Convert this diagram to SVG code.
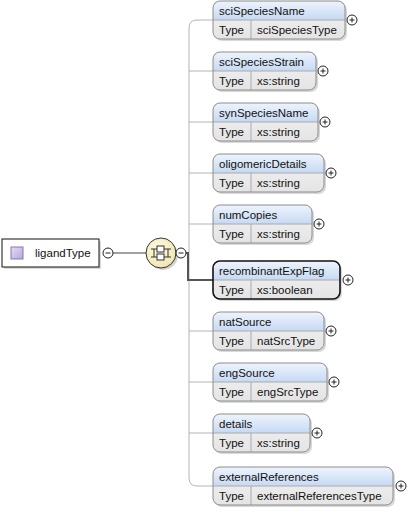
<svg xmlns="http://www.w3.org/2000/svg" width="409" height="512" viewBox="0 0 409 512">
<defs>
<linearGradient id="hdr" x1="0" y1="0" x2="0" y2="1"><stop offset="0" stop-color="#eef4fd"/><stop offset="1" stop-color="#c6d9f3"/></linearGradient>
<linearGradient id="typ" x1="0" y1="0" x2="0" y2="1"><stop offset="0" stop-color="#f4f4f4"/><stop offset="1" stop-color="#e4e4e4"/></linearGradient>
<radialGradient id="cho" cx="0.4" cy="0.35" r="0.7"><stop offset="0" stop-color="#fffbe0"/><stop offset="1" stop-color="#efe5b0"/></radialGradient>
<linearGradient id="ico" x1="0" y1="0" x2="1" y2="1"><stop offset="0" stop-color="#e6dcf6"/><stop offset="1" stop-color="#b6a6dc"/></linearGradient>
<g id="plus"><circle r="5" fill="#fff" stroke="#222" stroke-width="1"/><path d="M-2.5,0H2.5M0,-2.5V2.5" stroke="#222" stroke-width="1"/></g>
</defs>
<style>
text{font-family:"Liberation Sans",Arial,sans-serif;font-size:11.5px;fill:#111}
.sh{fill:#000;opacity:0.15}
.bd{fill:none;stroke:#8c8c8c;stroke-width:1}
.bdk{fill:none;stroke:#111;stroke-width:1.6}
.sep{stroke:#aaa;stroke-width:1}
.conn{fill:none;stroke:#b4b4b4;stroke-width:1}
</style>

<g id="connectors">
<path class="conn" d="M213,20H197Q189,20 189,28V478Q189,486 197,486H213"/>
<path class="conn" d="M189,71H213M189,122H213M189,173H213M189,224H213M189,331H213M189,382H213M189,433H213"/>
<path d="M113,253H146" stroke="#444" stroke-width="1.2" fill="none"/>
<path d="M186,253H188V280H213" stroke="#555" stroke-width="2" fill="none"/>
</g>

<g id="ligandType">
<rect x="4" y="241" width="97" height="28" class="sh"/>
<rect x="2" y="239" width="97" height="28" fill="#fff" stroke="#111" stroke-width="1"/>
<rect x="11" y="247" width="12" height="12" fill="url(#ico)" stroke="#8878b0" stroke-width="1"/>
<text x="35" y="257">ligandType</text>
<g transform="translate(108,253)"><circle r="5" fill="#fff" stroke="#222"/><path d="M-2.5,0H2.5" stroke="#222"/></g>
</g>

<g id="compositor">
<circle cx="163" cy="255" r="15" fill="#000" opacity="0.18"/>
<circle cx="161" cy="253" r="15" fill="url(#cho)" stroke="#333" stroke-width="1"/>
<path d="M151,249H171M151,257H171M154,249V257M168,249V257" stroke="#333" stroke-width="1" fill="none"/>
<rect x="157" y="246" width="7" height="6" fill="#fff" stroke="#333"/>
<rect x="157" y="254" width="7" height="6" fill="#fff" stroke="#333"/>
<g transform="translate(181,253)"><circle r="5" fill="#fff" stroke="#222"/><path d="M-2.5,0H2.5" stroke="#222"/></g>
</g>

<g id="sciSpeciesName" transform="translate(213,1)">
<rect x="2" y="2" width="132" height="38" rx="7" class="sh"/>
<rect width="132" height="38" rx="7" fill="url(#typ)"/>
<path d="M0,19V7Q0,0 7,0H125Q132,0 132,7V19Z" fill="url(#hdr)"/>
<path class="sep" d="M0,19H132M38,19V38"/>
<rect width="132" height="38" rx="7" class="bd"/>
<text x="6" y="14">sciSpeciesName</text><text x="6" y="33">Type</text><text x="44" y="33">sciSpeciesType</text>
<use href="#plus" x="139" y="19"/>
</g>

<g id="sciSpeciesStrain" transform="translate(213,52)">
<rect x="2" y="2" width="103" height="38" rx="7" class="sh"/>
<rect width="103" height="38" rx="7" fill="url(#typ)"/>
<path d="M0,19V7Q0,0 7,0H96Q103,0 103,7V19Z" fill="url(#hdr)"/>
<path class="sep" d="M0,19H103M38,19V38"/>
<rect width="103" height="38" rx="7" class="bd"/>
<text x="6" y="14">sciSpeciesStrain</text><text x="6" y="33">Type</text><text x="44" y="33">xs:string</text>
<use href="#plus" x="110" y="19"/>
</g>

<g id="synSpeciesName" transform="translate(213,103)">
<rect x="2" y="2" width="105" height="38" rx="7" class="sh"/>
<rect width="105" height="38" rx="7" fill="url(#typ)"/>
<path d="M0,19V7Q0,0 7,0H98Q105,0 105,7V19Z" fill="url(#hdr)"/>
<path class="sep" d="M0,19H105M38,19V38"/>
<rect width="105" height="38" rx="7" class="bd"/>
<text x="6" y="14">synSpeciesName</text><text x="6" y="33">Type</text><text x="44" y="33">xs:string</text>
<use href="#plus" x="112" y="19"/>
</g>

<g id="oligomericDetails" transform="translate(213,154)">
<rect x="2" y="2" width="111" height="38" rx="7" class="sh"/>
<rect width="111" height="38" rx="7" fill="url(#typ)"/>
<path d="M0,19V7Q0,0 7,0H104Q111,0 111,7V19Z" fill="url(#hdr)"/>
<path class="sep" d="M0,19H111M38,19V38"/>
<rect width="111" height="38" rx="7" class="bd"/>
<text x="6" y="14">oligomericDetails</text><text x="6" y="33">Type</text><text x="44" y="33">xs:string</text>
<use href="#plus" x="118" y="19"/>
</g>

<g id="numCopies" transform="translate(213,205)">
<rect x="2" y="2" width="99" height="38" rx="7" class="sh"/>
<rect width="99" height="38" rx="7" fill="url(#typ)"/>
<path d="M0,19V7Q0,0 7,0H92Q99,0 99,7V19Z" fill="url(#hdr)"/>
<path class="sep" d="M0,19H99M38,19V38"/>
<rect width="99" height="38" rx="7" class="bd"/>
<text x="6" y="14">numCopies</text><text x="6" y="33">Type</text><text x="44" y="33">xs:string</text>
<use href="#plus" x="106" y="19"/>
</g>

<g id="recombinantExpFlag" transform="translate(213,261)">
<rect x="2" y="2" width="127" height="38" rx="7" class="sh"/>
<rect width="127" height="38" rx="7" fill="url(#typ)"/>
<path d="M0,19V7Q0,0 7,0H120Q127,0 127,7V19Z" fill="url(#hdr)"/>
<path class="sep" d="M0,19H127M38,19V38"/>
<rect width="127" height="38" rx="7" class="bdk"/>
<text x="6" y="14">recombinantExpFlag</text><text x="6" y="33">Type</text><text x="44" y="33">xs:boolean</text>
<use href="#plus" x="135" y="19"/>
</g>

<g id="natSource" transform="translate(213,312)">
<rect x="2" y="2" width="111" height="38" rx="7" class="sh"/>
<rect width="111" height="38" rx="7" fill="url(#typ)"/>
<path d="M0,19V7Q0,0 7,0H104Q111,0 111,7V19Z" fill="url(#hdr)"/>
<path class="sep" d="M0,19H111M38,19V38"/>
<rect width="111" height="38" rx="7" class="bd"/>
<text x="6" y="14">natSource</text><text x="6" y="33">Type</text><text x="44" y="33">natSrcType</text>
<use href="#plus" x="118" y="19"/>
</g>

<g id="engSource" transform="translate(213,363)">
<rect x="2" y="2" width="114" height="38" rx="7" class="sh"/>
<rect width="114" height="38" rx="7" fill="url(#typ)"/>
<path d="M0,19V7Q0,0 7,0H107Q114,0 114,7V19Z" fill="url(#hdr)"/>
<path class="sep" d="M0,19H114M38,19V38"/>
<rect width="114" height="38" rx="7" class="bd"/>
<text x="6" y="14">engSource</text><text x="6" y="33">Type</text><text x="44" y="33">engSrcType</text>
<use href="#plus" x="121" y="19"/>
</g>

<g id="details" transform="translate(213,414)">
<rect x="2" y="2" width="97" height="38" rx="7" class="sh"/>
<rect width="97" height="38" rx="7" fill="url(#typ)"/>
<path d="M0,19V7Q0,0 7,0H90Q97,0 97,7V19Z" fill="url(#hdr)"/>
<path class="sep" d="M0,19H97M38,19V38"/>
<rect width="97" height="38" rx="7" class="bd"/>
<text x="6" y="14">details</text><text x="6" y="33">Type</text><text x="44" y="33">xs:string</text>
<use href="#plus" x="104" y="19"/>
</g>

<g id="externalReferences" transform="translate(213,467)">
<rect x="2" y="2" width="180" height="38" rx="7" class="sh"/>
<rect width="180" height="38" rx="7" fill="url(#typ)"/>
<path d="M0,19V7Q0,0 7,0H173Q180,0 180,7V19Z" fill="url(#hdr)"/>
<path class="sep" d="M0,19H180M38,19V38"/>
<rect width="180" height="38" rx="7" class="bd"/>
<text x="6" y="14">externalReferences</text><text x="6" y="33">Type</text><text x="44" y="33">externalReferencesType</text>
<use href="#plus" x="188" y="19"/>
</g>
</svg>
